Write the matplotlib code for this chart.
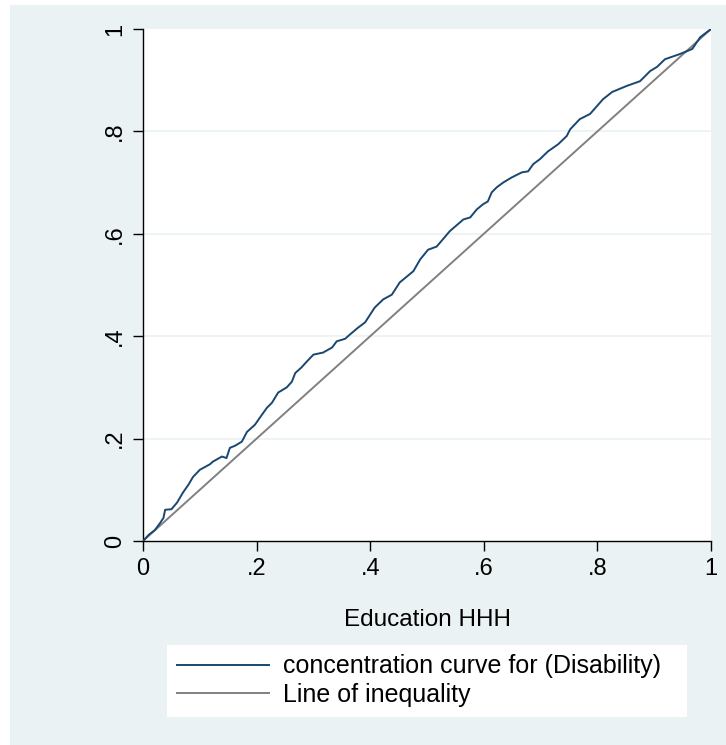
import matplotlib
matplotlib.use("Agg")
from matplotlib import pyplot as plt
from matplotlib.patches import Rectangle

plt.rcParams["font.family"] = ["Liberation Sans", "DejaVu Sans"]

# concentration curve
cum_pop = [0, 0.01, 0.021, 0.03, 0.036, 0.039, 0.05, 0.06, 0.07, 0.08, 0.088, 0.1,
           0.118, 0.123, 0.139, 0.147, 0.153, 0.162, 0.174, 0.183, 0.197, 0.209,
           0.218, 0.227, 0.238, 0.253, 0.262, 0.268, 0.279, 0.288, 0.3, 0.317,
           0.333, 0.341, 0.356, 0.364, 0.379, 0.391, 0.408, 0.423, 0.438, 0.452,
           0.476, 0.488, 0.502, 0.517, 0.54, 0.564, 0.576, 0.588, 0.599, 0.607,
           0.614, 0.623, 0.634, 0.649, 0.667, 0.678, 0.687, 0.699, 0.713, 0.731,
           0.746, 0.752, 0.769, 0.787, 0.81, 0.826, 0.852, 0.875, 0.893, 0.905,
           0.919, 0.945, 0.967, 0.981, 1.0]
cum_share = [0, 0.012, 0.0215, 0.035, 0.045, 0.061, 0.062, 0.075, 0.094, 0.11, 0.125,
             0.139, 0.150, 0.155, 0.165, 0.162, 0.182, 0.186, 0.194, 0.213, 0.227,
             0.246, 0.26, 0.27, 0.29, 0.3, 0.311, 0.328, 0.339, 0.35, 0.364, 0.368,
             0.378, 0.39, 0.395, 0.403, 0.417, 0.427, 0.456, 0.472, 0.481, 0.505,
             0.527, 0.55, 0.569, 0.575, 0.605, 0.628, 0.632, 0.648, 0.658, 0.663,
             0.681, 0.691, 0.7, 0.71, 0.72, 0.722, 0.736, 0.746, 0.761, 0.775,
             0.791, 0.804, 0.824, 0.834, 0.863, 0.877, 0.889, 0.898, 0.918, 0.926,
             0.941, 0.951, 0.961, 0.984, 1.0]
equality = [0, 1]
ticks = [0, 0.2, 0.4, 0.6, 0.8, 1]
tick_labels = ["0", ".2", ".4", ".6", ".8", "1"]
grid_levels = [0.2, 0.4, 0.6, 0.8]

W, H = 726, 745
bg = "#EAF2F3"
fig = plt.figure(figsize=(W / 100, H / 100), dpi=100, facecolor="white")
fig.patches.append(Rectangle((10 / W, 0), 1, 1 - 5 / H, transform=fig.transFigure,
                             facecolor=bg, edgecolor="none", zorder=-10))

ax = fig.add_axes([143 / W, (H - 541) / H, 568 / W, 512 / H])
ax.set_facecolor("white")
for y in grid_levels:
    ax.axhline(y, color=bg, lw=1.2, zorder=0)

ax.plot(cum_pop, cum_share, color="#1A476F", lw=1.4,
        label="concentration curve for (Disability)", zorder=3)
ax.plot(equality, equality, color="#808080", lw=1.4,
        label="Line of inequality", zorder=2)

ax.set_xlim(0, 1)
ax.set_ylim(0, 1)
ax.set_xticks(ticks)
ax.set_xticklabels(tick_labels)
ax.set_yticks(ticks)
ax.set_yticklabels(tick_labels, rotation=90, va="center")
ax.tick_params(length=7, width=1, pad=5, labelsize=17, color="black")
for s in ["top", "right"]:
    ax.spines[s].set_visible(False)
for s in ["left", "bottom"]:
    ax.spines[s].set_linewidth(1)

fig.text(427 / W, 1 - 620 / H, "Education HHH", fontsize=17.5,
         ha="center", va="center")

leg = fig.legend(loc="upper left",
                 bbox_to_anchor=(167 / W, 1 - 717 / H, 520 / W, 72 / H),
                 mode="expand", frameon=True, facecolor="white", edgecolor="none",
                 fancybox=False, borderaxespad=0, fontsize=18, handlelength=3.7,
                 handletextpad=0.55, labelspacing=0.18, borderpad=0.38)
leg.get_frame().set_alpha(1)

fig.savefig("out.png", dpi=100, facecolor="white")
